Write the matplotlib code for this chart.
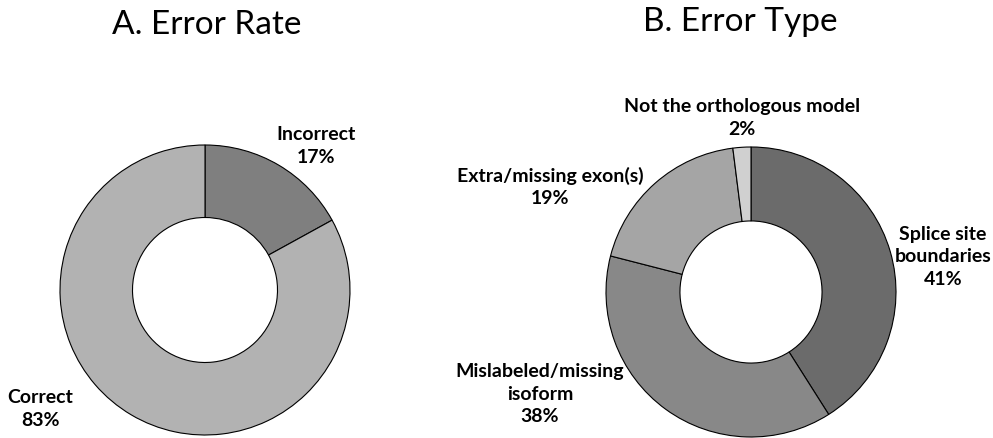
import matplotlib
matplotlib.use("Agg")
import matplotlib.pyplot as plt

W, H = 993, 438

rate_labels = ["Incorrect\n17%", "Correct\n83%"]
rate_values = [17, 83]
rate_colors = ["#7f7f7f", "#b2b2b2"]

type_labels = ["Splice site\nboundaries\n41%", "Mislabeled/missing\nisoform\n38%",
               "Extra/missing exon(s)\n19%", "Not the orthologous model\n2%"]
type_values = [41, 38, 19, 2]
type_colors = ["#6b6b6b", "#888888", "#a5a5a5", "#d0d0d0"]

titles = ["A. Error Rate", "B. Error Type"]

plt.rcParams['font.family'] = ['Lato', 'DejaVu Sans']

fig = plt.figure(figsize=(W / 100, H / 100), dpi=100)
ax = fig.add_axes([0, 0, 1, 1])

def Y(y):
    return H - y

ax.pie(rate_values, colors=rate_colors, startangle=90, counterclock=False,
       center=(205, Y(290)), radius=145,
       wedgeprops=dict(width=0.5 * 145, edgecolor='black', linewidth=0.8), frame=True)
ax.pie(type_values, colors=type_colors, startangle=90, counterclock=False,
       center=(751, Y(292)), radius=145,
       wedgeprops=dict(width=0.51 * 145, edgecolor='black', linewidth=0.8), frame=True)
ax.set_xlim(0, W)
ax.set_ylim(0, H)
ax.set_aspect('equal')
ax.axis('off')

lab_kw = dict(ha='center', va='center', fontsize=14, fontweight='bold', linespacing=1.4)
rate_pos = [(316, 146), (40, 409)]
for lab, (x, y) in zip(rate_labels, rate_pos):
    ax.text(x, Y(y), lab, **lab_kw)

type_pos = [(943, 257), (540, 394), (550, 187), (742, 118)]
for lab, (x, y) in zip(type_labels, type_pos):
    ax.text(x, Y(y), lab, **lab_kw)

ax.text(207, Y(25), titles[0], ha='center', va='center', fontsize=24)
ax.text(740, Y(22), titles[1], ha='center', va='center', fontsize=24)

fig.savefig("out.png", dpi=100)
